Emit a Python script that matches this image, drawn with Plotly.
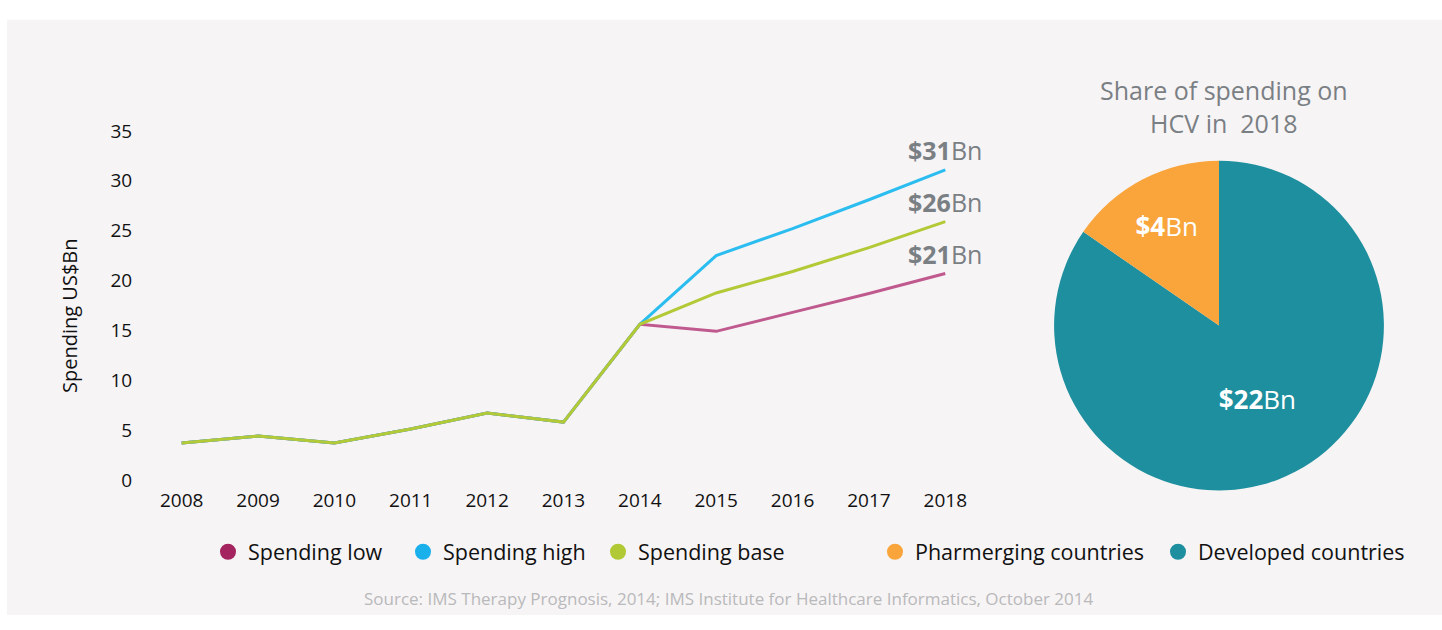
import plotly.graph_objects as go

W, H = 1442, 630

years = [2008, 2009, 2010, 2011, 2012, 2013, 2014, 2015, 2016, 2017, 2018]
spending_low = [3.7, 4.4, 3.7, 5.1, 6.7, 5.8, 15.6, 14.9, 16.8, 18.7, 20.7]
spending_high = [3.7, 4.4, 3.7, 5.1, 6.7, 5.8, 15.6, 22.5, 25.2, 28.1, 31.1]
spending_base = [3.7, 4.4, 3.7, 5.1, 6.7, 5.8, 15.6, 18.75, 20.9, 23.3, 25.9]
end_labels = ["<b>$21</b>Bn", "<b>$31</b>Bn", "<b>$26</b>Bn"]

pie_labels = ["Developed countries", "Pharmerging countries"]
pie_values = [22, 4]
pie_text = ["<b>$22</b>Bn", "<b>$4</b>Bn"]

y_ticks = [0, 5, 10, 15, 20, 25, 30, 35]

FONT = "Open Sans"
GRAY = "#7a7f84"

line_colors = ["#c05a8e", "#2bbdf0", "#b3c936"]
legend_colors = ["#a3245f", "#1ab0ec", "#b1c934"]
pie_colors = ["#1e8f9e", "#f9a53c"]
series = [("Spending low", spending_low), ("Spending high", spending_high), ("Spending base", spending_base)]

fig = go.Figure()

for idx in [0, 1, 2]:
    name, vals = series[idx]
    fig.add_trace(go.Scatter(
        x=years, y=vals, mode="lines", name=name, showlegend=False,
        line=dict(color=line_colors[idx], width=3), xaxis="x", yaxis="y",
    ))

for idx, (name, vals) in enumerate(series):
    fig.add_trace(go.Scatter(
        x=[None], y=[None], mode="markers", name=name, legend="legend",
        marker=dict(color=legend_colors[idx], size=16, symbol="circle"),
    ))
for lab, col in [(pie_labels[1], pie_colors[1]), (pie_labels[0], pie_colors[0])]:
    fig.add_trace(go.Scatter(
        x=[None], y=[None], mode="markers", name=lab, legend="legend2",
        marker=dict(color=col, size=16, symbol="circle"),
    ))

fig.add_trace(go.Pie(
    labels=pie_labels, values=pie_values, text=pie_text, sort=False,
    direction="clockwise", rotation=0,
    marker=dict(colors=pie_colors, line=dict(width=0)),
    textinfo="text", texttemplate="%{text}", textposition="inside",
    insidetextorientation="horizontal",
    insidetextfont=dict(family=FONT, size=26, color="white"),
    showlegend=False, hoverinfo="label+value",
    domain=dict(x=[1047 / W, 1391 / W], y=[(H - 498) / H, (H - 154) / H]),
))

annotations = []
for (name, vals), lab in zip(series, end_labels):
    annotations.append(dict(
        x=years[-1], y=vals[-1], xref="x", yref="y", text=lab, showarrow=False,
        xanchor="center", yanchor="bottom", yshift=1,
        font=dict(family=FONT, size=25, color=GRAY),
    ))
annotations.append(dict(
    x=1224 / W, y=(H - 98) / H, xref="paper", yref="paper",
    text="Share of spending on<br>HCV in  2018", showarrow=False,
    xanchor="center", yanchor="middle", align="center",
    font=dict(family=FONT, size=25, color=GRAY),
))
annotations.append(dict(
    x=70 / W, y=(H - 316) / H, xref="paper", yref="paper",
    text="Spending US$Bn", textangle=-90, showarrow=False,
    xanchor="center", yanchor="middle",
    font=dict(family=FONT, size=20, color="#111"),
))
annotations.append(dict(
    x=728 / W, y=(H - 611) / H, xref="paper", yref="paper",
    text="Source: IMS Therapy Prognosis, 2014; IMS Institute for Healthcare Informatics, October 2014",
    showarrow=False, xanchor="center", yanchor="middle",
    font=dict(family=FONT, size=17, color="#b9b9bb"),
))

fig.update_layout(
    width=W, height=H,
    margin=dict(l=0, r=0, t=0, b=0),
    paper_bgcolor="white", plot_bgcolor="rgba(0,0,0,0)",
    font=dict(family=FONT, color="#111"),
    xaxis=dict(
        domain=[145 / W, 985 / W], range=[2007.52, 2018.52],
        tickmode="array", tickvals=years, ticktext=[str(y) for y in years],
        showgrid=False, zeroline=False, showline=False,
        ticks="outside", ticklen=3, tickcolor="rgba(0,0,0,0)",
        tickfont=dict(family=FONT, size=19, color="#111"), fixedrange=True,
    ),
    yaxis=dict(
        domain=[(H - 487) / H, (H - 123) / H], range=[0, 35],
        tickmode="array", tickvals=y_ticks,
        showgrid=False, zeroline=False, showline=False,
        ticks="outside", ticklen=8, tickcolor="rgba(0,0,0,0)",
        tickfont=dict(family=FONT, size=19, color="#111"), fixedrange=True,
    ),
    legend=dict(
        orientation="h", x=208 / W, y=(H - 562) / H, xanchor="left", yanchor="middle",
        font=dict(family=FONT, size=21.5, color="#111"), bgcolor="rgba(0,0,0,0)",
        itemclick=False, itemdoubleclick=False, tracegroupgap=0,
        entrywidth=150, entrywidthmode="pixels",
    ),
    legend2=dict(
        orientation="h", x=875 / W, y=(H - 562) / H, xanchor="left", yanchor="middle",
        font=dict(family=FONT, size=21.5, color="#111"), bgcolor="rgba(0,0,0,0)",
        itemclick=False, itemdoubleclick=False,
        entrywidth=238, entrywidthmode="pixels",
    ),
    annotations=annotations,
    shapes=[dict(
        type="rect", xref="paper", yref="paper", layer="below",
        x0=7 / W, x1=1, y0=2 / H, y1=(H - 7) / H,
        fillcolor="#f6f4f5", line=dict(width=0),
    )],
)

post = """
document.documentElement.style.margin='0';
document.body.style.margin='0';
document.documentElement.style.overflow='hidden';
document.body.style.overflow='hidden';
"""

fig.write_html("out.html", config={"displayModeBar": False}, post_script=post)
